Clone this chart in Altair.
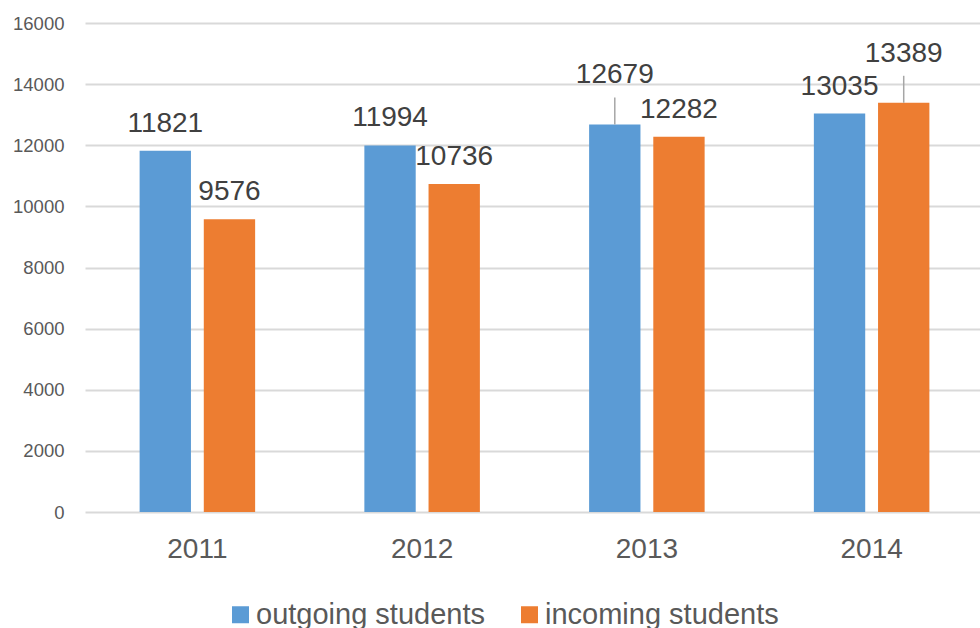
import altair as alt
import pandas as pd

years = ["2011", "2012", "2013", "2014"]
outgoing = [11821, 11994, 12679, 13035]
incoming = [9576, 10736, 12282, 13389]
series_names = ["outgoing students", "incoming students"]
series_colors = ["#5B9BD5", "#ED7D31"]
y_ticks = [0, 2000, 4000, 6000, 8000, 10000, 12000, 14000, 16000]

rows = []
for i, yr in enumerate(years):
    rows.append({"year": yr, "series": series_names[0], "value": outgoing[i]})
    rows.append({"year": yr, "series": series_names[1], "value": incoming[i]})
df = pd.DataFrame(rows)

# labels that are lifted higher and tied to their bar with a leader line
callout_expr = (
    "(datum.year == '2013' && datum.series == 'outgoing students') || "
    "(datum.year == '2014' && datum.series == 'incoming students')"
)

x_enc = alt.X(
    "year:N",
    sort=years,
    scale=alt.Scale(range=[0, 899], paddingInner=0.486, paddingOuter=0.243),
    axis=alt.Axis(
        title=None, labelAngle=0, domain=False, ticks=False, grid=False,
        labelFontSize=28, labelColor="#595959", labelPadding=23,
    ),
)
xoff_enc = alt.XOffset(
    "series:N",
    sort=series_names,
    scale=alt.Scale(domain=series_names, paddingInner=0.2, paddingOuter=0),
)
y_enc = alt.Y(
    "value:Q",
    scale=alt.Scale(domain=[0, 16000], nice=False),
    axis=alt.Axis(
        title=None, values=y_ticks, format="d", domain=False, ticks=False,
        gridColor="#D9D9D9", gridWidth=2,
        labelFontSize=18.5, labelColor="#595959", labelPadding=21,
    ),
)

base = alt.Chart(df).encode(x=x_enc, xOffset=xoff_enc)

bars = base.mark_bar().encode(
    y=y_enc,
    color=alt.Color(
        "series:N",
        scale=alt.Scale(domain=series_names, range=series_colors),
        legend=alt.Legend(
            orient="none", legendX=141, legendY=577, direction="horizontal",
            title=None, symbolType="square", symbolSize=289,
            symbolStrokeWidth=0, symbolOpacity=1,
            labelFontSize=29, labelColor="#595959", labelOffset=1,
            labelLimit=500, columnPadding=30,
        ),
    ),
)

labels = base.mark_text(
    dy=-19, baseline="alphabetic", fontSize=28, color="#404040"
).encode(
    y=alt.Y("value:Q"),
    text=alt.Text("value:Q", format="d"),
).transform_filter("!(" + callout_expr + ")")

callout_labels = base.mark_text(
    dy=-41, baseline="alphabetic", fontSize=28, color="#404040"
).encode(
    y=alt.Y("value:Q"),
    text=alt.Text("value:Q", format="d"),
).transform_filter(callout_expr)

leaders = base.mark_rule(
    color="#A6A6A6", strokeWidth=1.5, y2Offset=-27
).encode(
    y=alt.Y("value:Q"),
    y2=alt.Y2("value:Q"),
).transform_filter(callout_expr)

chart = (
    alt.layer(bars, leaders, labels, callout_labels)
    .properties(
        width=895,
        height=489,
        autosize=alt.AutoSizeParams(type="none"),
        padding={"left": 85, "top": 23, "right": 0, "bottom": 116},
        background="white",
    )
    .configure(font="Liberation Sans")
    .configure_view(stroke=None)
)

chart.save("out.html", embed_options={"renderer": "svg", "actions": False})
